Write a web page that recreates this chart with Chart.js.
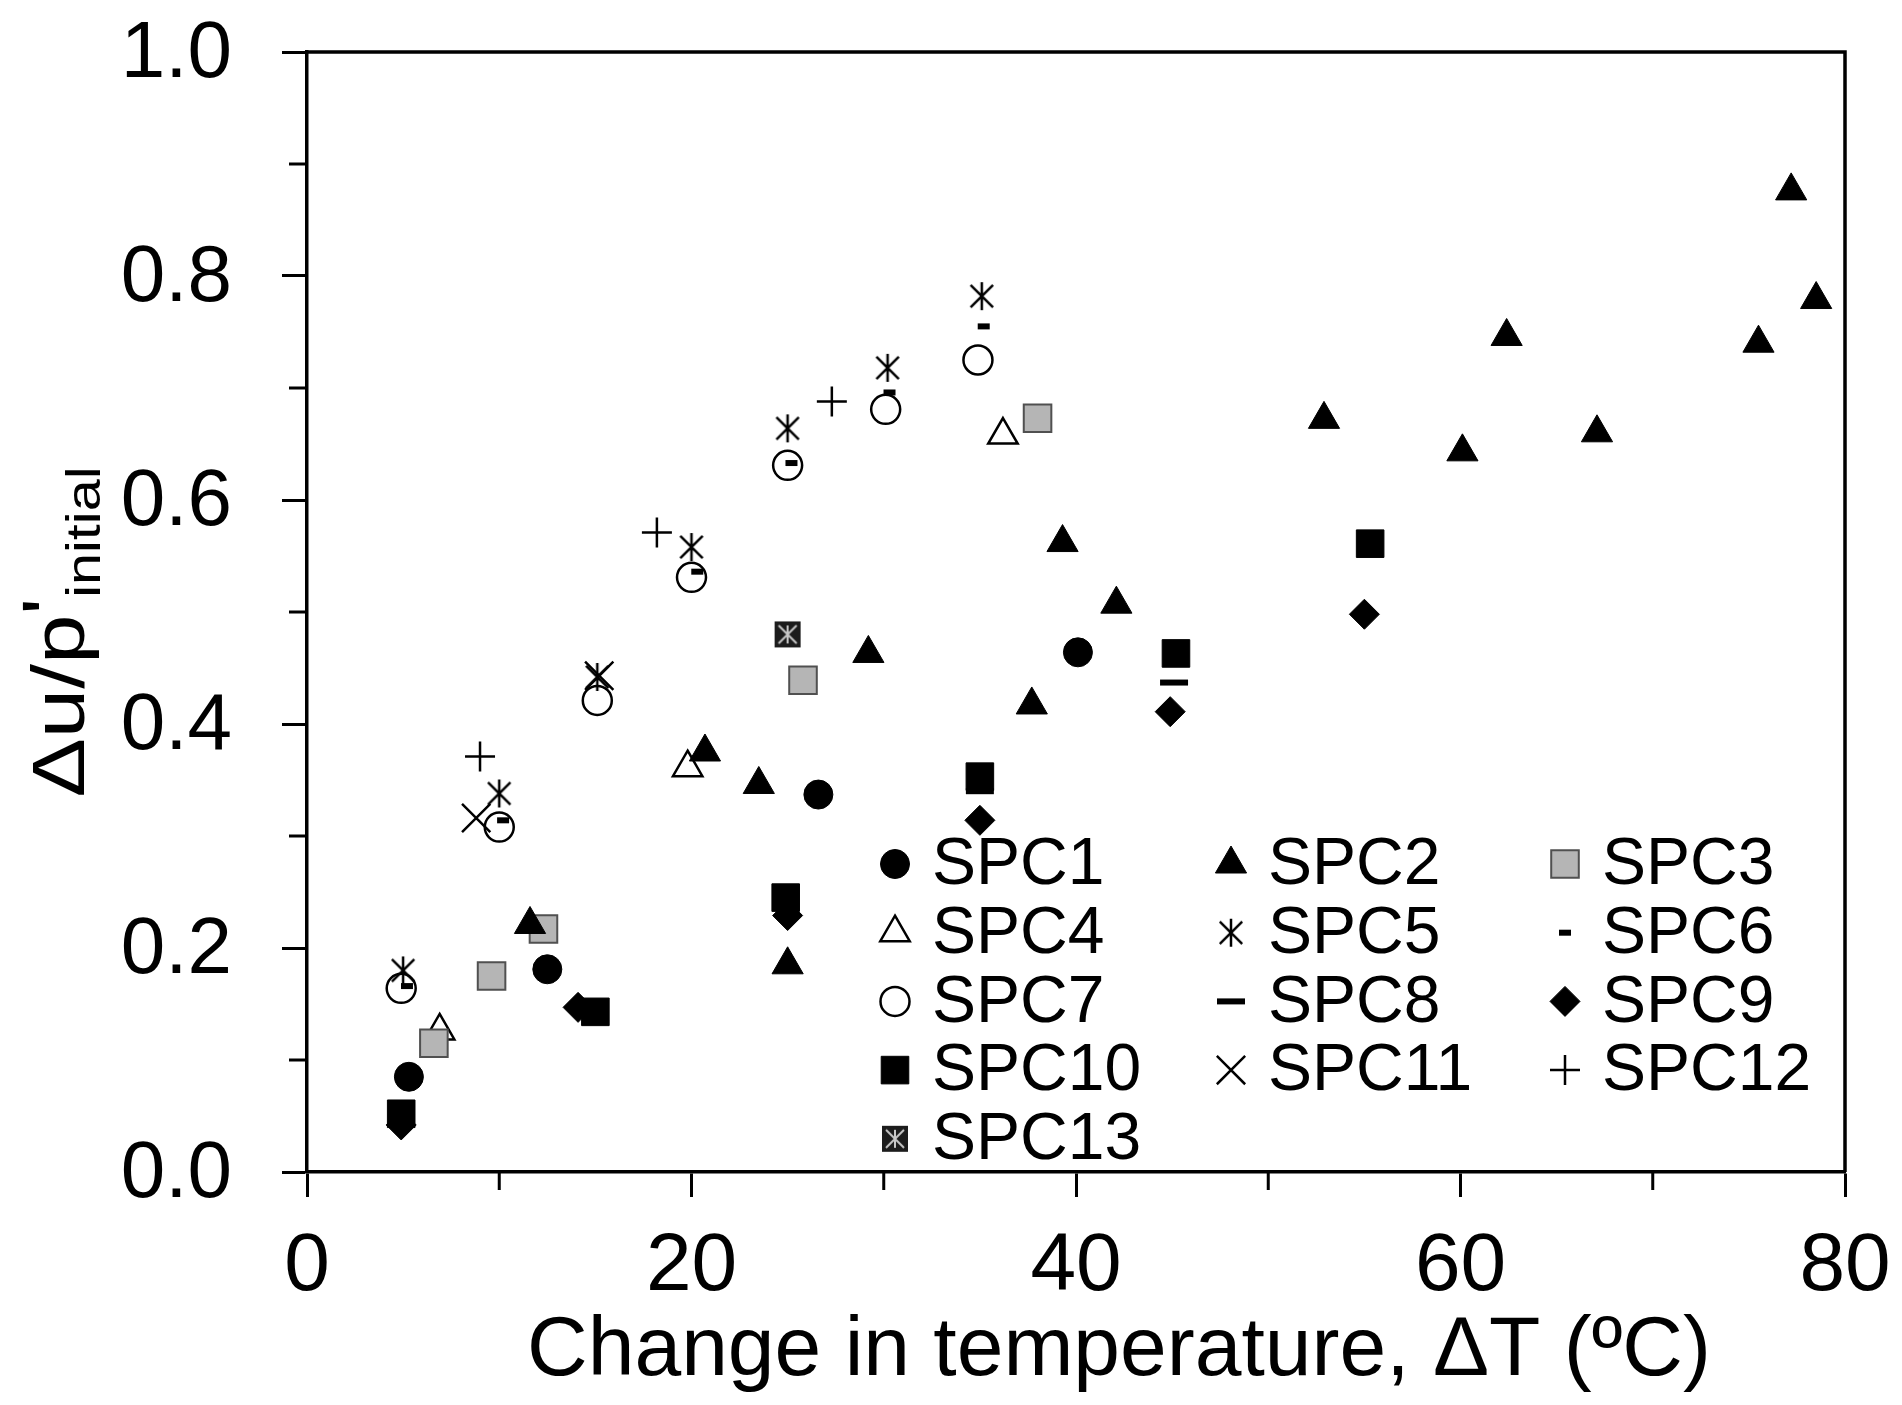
<!DOCTYPE html>
<html>
<head>
<meta charset="utf-8">
<script src="https://cdn.jsdelivr.net/npm/chart.js@4"></script>
<style>
  body { margin: 0; background: #fff; }
  canvas { display: block; }
</style>
</head>
<body>
<canvas id="chart" width="1902" height="1405"></canvas>
<script>
// values (ΔT in ºC, Δu/p'initial)
const x1 = [5.3, 12.5, 26.6, 40.1];
const y1 = [0.085, 0.181, 0.337, 0.464];
const x2 = [11.6, 20.7, 23.5, 25.0, 29.2, 37.7, 39.3, 42.1, 52.9, 60.1, 62.4, 67.1, 75.5, 77.2, 78.5];
const y2 = [0.221, 0.375, 0.346, 0.185, 0.463, 0.417, 0.562, 0.507, 0.672, 0.643, 0.746, 0.660, 0.740, 0.876, 0.779];
const x3 = [6.6, 9.6, 12.3, 25.8, 38.0];
const y3 = [0.115, 0.175, 0.217, 0.439, 0.673];
const x4 = [6.9, 19.8, 36.2];
const y4 = [0.126, 0.361, 0.658];
const x5 = [5.0, 10.0, 15.1, 20.0, 25.0, 30.2, 35.1];
const y5 = [0.180, 0.338, 0.442, 0.558, 0.664, 0.718, 0.782];
const x6 = [5.2, 10.2, 20.3, 25.2, 30.3, 35.2];
const y6 = [0.166, 0.314, 0.536, 0.633, 0.696, 0.755];
const x7 = [4.9, 10.0, 15.1, 20.0, 25.0, 30.1, 34.9];
const y7 = [0.164, 0.308, 0.421, 0.531, 0.631, 0.681, 0.725];
const x8 = [35.0, 45.1];
const y8 = [0.340, 0.437];
const x9 = [4.9, 14.1, 25.0, 35.0, 44.9, 55.0];
const y9 = [0.042, 0.147, 0.229, 0.314, 0.411, 0.498];
const x10 = [4.9, 15.0, 24.9, 35.0, 45.2, 55.3];
const y10 = [0.052, 0.143, 0.245, 0.353, 0.463, 0.561];
const x11 = [8.8, 15.2];
const y11 = [0.316, 0.443];
const x12 = [9.0, 18.2, 27.3];
const y12 = [0.371, 0.571, 0.688];
const x13 = [25.0];
const y13 = [0.480];

const xTicks = [0, 20, 40, 60, 80];
const xMinor = [10, 30, 50, 70];
const yTicks = [0, 0.2, 0.4, 0.6, 0.8, 1.0];
const yMinor = [0.1, 0.3, 0.5, 0.7, 0.9];
const yTickLabels = ['0.0', '0.2', '0.4', '0.6', '0.8', '1.0'];

const FONT = '"Liberation Sans", Arial, sans-serif';

function pts(xs, ys) { return xs.map((x, i) => ({ x: x, y: ys[i] })); }

// asterisk marker (vertical bar + X)
function asterisk(size, lw) {
  const c = document.createElement('canvas');
  c.width = size; c.height = size;
  const g = c.getContext('2d');
  g.strokeStyle = '#000'; g.lineWidth = lw;
  const m = size / 2, r = size / 2 - 2;
  g.beginPath();
  g.moveTo(m, m - r); g.lineTo(m, m + r);
  g.moveTo(m - r * 0.8, m - r * 0.8); g.lineTo(m + r * 0.8, m + r * 0.8);
  g.moveTo(m + r * 0.8, m - r * 0.8); g.lineTo(m - r * 0.8, m + r * 0.8);
  g.stroke();
  return c;
}

// dark square with a light asterisk inside
function boxStar(size) {
  const c = document.createElement('canvas');
  c.width = size; c.height = size;
  const g = c.getContext('2d');
  g.fillStyle = '#1c1c1c';
  g.fillRect(1, 1, size - 2, size - 2);
  g.strokeStyle = '#c8c8c8'; g.lineWidth = 2;
  const m = size / 2, r = size / 2 - 5;
  g.beginPath();
  g.moveTo(m - r, m - r); g.lineTo(m + r, m + r);
  g.moveTo(m + r, m - r); g.lineTo(m - r, m + r);
  g.moveTo(m, m - r); g.lineTo(m, m + r);
  g.stroke();
  return c;
}

const starImg = asterisk(32, 2.5);
const boxImg = boxStar(28);

function ds(label, xs, ys, style, radius, bg, border, bw) {
  return {
    label: label,
    data: pts(xs, ys),
    pointStyle: style,
    pointRadius: radius,
    pointHoverRadius: radius,
    pointBackgroundColor: bg,
    pointBorderColor: border,
    pointBorderWidth: bw,
    showLine: false
  };
}

const datasets = [
  ds('SPC1', x1, y1, 'circle', 14.5, '#000', '#000', 1),
  ds('SPC2', x2, y2, 'triangle', 18, '#000', '#000', 1),
  ds('SPC3', x3, y3, 'rect', 19.5, '#b5b5b5', '#505050', 2),
  ds('SPC4', x4, y4, 'triangle', 17, 'rgba(255,255,255,0)', '#000', 2.5),
  ds('SPC5', x5, y5, starImg, 16, '#000', '#000', 0),
  ds('SPC6', x6, y6, 'line', 6, '#000', '#000', 6),
  ds('SPC7', x7, y7, 'circle', 14.5, 'rgba(255,255,255,0)', '#000', 2.5),
  ds('SPC8', x8, y8, 'line', 14, '#000', '#000', 6),
  ds('SPC9', x9, y9, 'rectRot', 15, '#000', '#000', 1),
  ds('SPC10', x10, y10, 'rect', 19.5, '#000', '#000', 1),
  ds('SPC11', x11, y11, 'crossRot', 20, '#000', '#000', 2.5),
  ds('SPC12', x12, y12, 'cross', 15, '#000', '#000', 2.5),
  ds('SPC13', x13, y13, boxImg, 14, '#000', '#000', 0)
];

// frame, minor ticks, y labels, axis titles and legend
const extras = {
  id: 'extras',
  afterDraw(chart) {
    const ctx = chart.ctx, a = chart.chartArea;
    const xs = chart.scales.x, ys = chart.scales.y;
    ctx.save();
    ctx.strokeStyle = '#000';
    ctx.lineWidth = 3.5;
    ctx.beginPath();
    ctx.moveTo(a.left, a.top); ctx.lineTo(a.right, a.top); ctx.lineTo(a.right, a.bottom);
    ctx.stroke();

    ctx.lineWidth = 3;
    ctx.beginPath();
    xMinor.forEach(v => {
      const p = xs.getPixelForValue(v);
      ctx.moveTo(p, a.bottom); ctx.lineTo(p, a.bottom + 18);
    });
    yMinor.forEach(v => {
      const p = ys.getPixelForValue(v);
      ctx.moveTo(a.left, p); ctx.lineTo(a.left - 18, p);
    });
    ctx.stroke();

    ctx.fillStyle = '#000';

    // y tick labels
    ctx.font = '80px ' + FONT;
    ctx.textAlign = 'right';
    ctx.textBaseline = 'middle';
    yTicks.forEach((v, i) => {
      ctx.fillText(yTickLabels[i], a.left - 75, ys.getPixelForValue(v) + 3);
    });

    // x title
    ctx.font = '84px ' + FONT;
    ctx.textAlign = 'center';
    ctx.textBaseline = 'alphabetic';
    ctx.fillText('Change in temperature, ΔT (ºC)', (a.left + a.right) / 2 + 43, 1375);

    // y title with superscript prime and subscript
    ctx.save();
    ctx.translate(84, (a.top + a.bottom) / 2 + 20);
    ctx.rotate(-Math.PI / 2);
    ctx.scale(1.2, 1);
    ctx.textAlign = 'left';
    const big = '74px ' + FONT, small = '48px ' + FONT;
    ctx.font = big;
    const w1 = ctx.measureText('Δu/p').width;
    const w2 = ctx.measureText("'").width;
    ctx.font = small;
    const w3 = ctx.measureText('initial').width;
    let px = -(w1 + w2 + w3) / 2;
    ctx.font = big;
    ctx.fillText('Δu/p', px, 0);
    px += w1;
    ctx.fillText("'", px, -10);
    px += w2;
    ctx.font = small;
    ctx.fillText('initial', px, 16);
    ctx.restore();

    // legend: 3 columns x 5 rows inside the plot
    const colX = [a.left + 588, a.left + 924, a.left + 1258];
    const rowY0 = a.bottom - 308, rowStep = 68.7;
    ctx.font = '66px ' + FONT;
    ctx.textAlign = 'left';
    ctx.textBaseline = 'middle';
    chart.data.datasets.forEach((d, i) => {
      const cx = colX[i % 3];
      const cy = rowY0 + Math.floor(i / 3) * rowStep;
      ctx.fillStyle = d.pointBackgroundColor;
      ctx.strokeStyle = d.pointBorderColor;
      ctx.lineWidth = d.pointBorderWidth;
      Chart.helpers.drawPoint(ctx, {
        pointStyle: d.pointStyle,
        radius: d.pointRadius,
        rotation: 0,
        borderWidth: d.pointBorderWidth
      }, cx, cy);
      ctx.fillStyle = '#000';
      ctx.fillText(d.label, cx + 37, cy + 2);
    });
    ctx.restore();
  }
};

const axisTicks = (vals) => function (scale) {
  scale.ticks = vals.map(v => ({ value: v }));
};

new Chart(document.getElementById('chart'), {
  type: 'scatter',
  data: { datasets: datasets },
  options: {
    responsive: false,
    animation: false,
    devicePixelRatio: 1,
    layout: { padding: { left: 0, top: 52, right: 57, bottom: 0 } },
    plugins: { legend: { display: false }, tooltip: { enabled: false } },
    scales: {
      x: {
        type: 'linear', min: 0, max: 80,
        afterBuildTicks: axisTicks(xTicks),
        afterFit(s) { s.height = 233; s.paddingLeft = 0; s.paddingRight = 0; },
        ticks: { color: '#000', font: { family: FONT, size: 82 }, padding: 21, maxRotation: 0,
                 callback: v => String(v) },
        grid: { drawOnChartArea: false, tickLength: 25, tickWidth: 3, tickColor: '#000' },
        border: { color: '#000', width: 3.5 }
      },
      y: {
        type: 'linear', min: 0, max: 1,
        afterBuildTicks: axisTicks(yTicks),
        afterFit(s) { s.width = 307; s.paddingTop = 0; s.paddingBottom = 0; },
        ticks: { display: false },
        grid: { drawOnChartArea: false, tickLength: 25, tickWidth: 3, tickColor: '#000' },
        border: { color: '#000', width: 3.5 }
      }
    }
  },
  plugins: [extras]
});
</script>
</body>
</html>
